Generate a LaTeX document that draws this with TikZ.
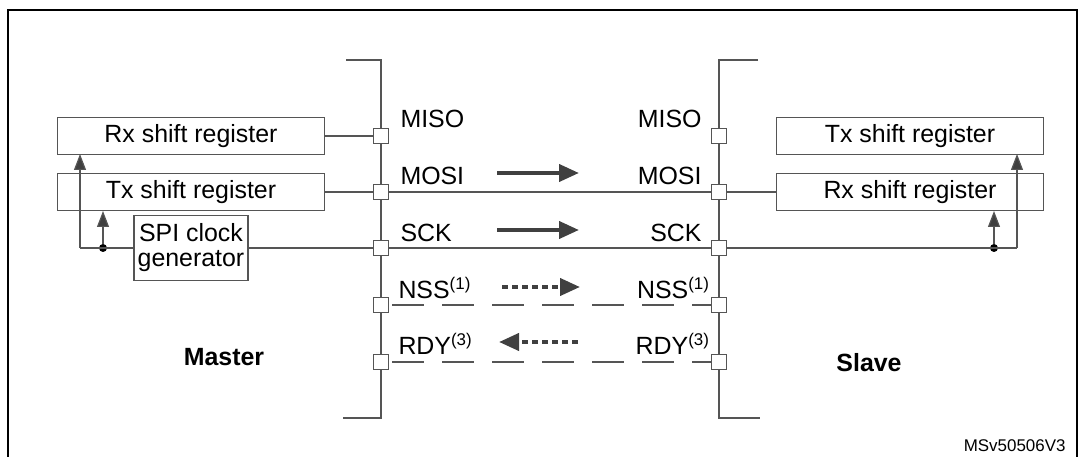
\documentclass[tikz,border=0pt]{standalone}
\usepackage{fontspec}
\setmainfont{Liberation Sans}
\usetikzlibrary{arrows.meta}
\definecolor{ln}{HTML}{555555}
\definecolor{ar}{HTML}{404040}
\newcommand{\bigf}{\fontsize{25}{29}\selectfont}
\newcommand{\supf}{\fontsize{17}{17}\selectfont}
\begin{document}
\bigf
\begin{tikzpicture}[x=1bp,y=-1bp,
  lab/.style={font=\bigf},
  box/.style={draw=ln,line width=1.2pt,minimum width=267bp,minimum height=37bp,inner sep=0,font=\bigf},
  pin/.style={draw=ln,fill=white,line width=1pt,minimum size=15bp,inner sep=0},
  bus/.style={draw=ln,line width=2pt},
  wire/.style={draw=ln,line width=1.2pt},
  sig/.style={draw=ln,line width=1.8pt},
  dsig/.style={draw=ln,line width=1.8pt,dash pattern=on 32bp off 18bp},
  bigar/.style={draw=ar,line width=4pt,-{Triangle[length=20bp,width=17bp]}},
  dar/.style={draw=ar,line width=4pt,dash pattern=on 6bp off 4bp,-{Triangle[length=20bp,width=17bp]}},
  upar/.style={wire,-{Triangle[length=16bp,width=12bp,fill=ar]}},
  dot/.style={circle,fill=black,inner sep=0,minimum size=8bp}]
\useasboundingbox (0,0) rectangle (1079,457);
\clip (0,0) rectangle (1079,457);
\draw[black,line width=1.6pt] (8,470) -- (8,10) -- (1077,10) -- (1077,470);
% buses
\coordinate (mt) at (346,60); \coordinate (mb) at (343,418);
\coordinate (st) at (758,60); \coordinate (sb) at (760,418);
\draw[bus] (mt) -- (381,60) -- (381,418) -- (mb);
\draw[bus] (st) -- (719,60) -- (719,418) -- (sb);
% boxes
\node[box] (mrx) at (191,136) {Rx shift register};
\node[box] (mtx) at (191,192) {Tx shift register};
\node[draw=ln,line width=1.2pt,minimum width=114bp,minimum height=65bp,align=center,inner sep=0,font=\bigf] (clk) at (191,248) {SPI clock\\[-4pt]generator};
\node[box] (stx) at (910,136) {Tx shift register};
\node[box] (srx) at (910,192) {Rx shift register};
% signal lines
\draw[wire] (mrx.east) -- (381,136);
\draw[wire] (mtx.east) -- (381,192);
\draw[wire] (clk.east) -- (381,248);
\draw[sig] (381,192) -- (719,192);
\draw[sig] (381,248) -- (719,248);
\draw[dsig] (392,305) -- (719,305);
\draw[dsig] (392,362) -- (719,362);
\draw[wire] (719,192) -- (srx.west);
% master clock feedback
\node[dot] (md) at (103,248) {};
\draw[wire] (clk.west) -- (80,248) coordinate (mc);
\draw[upar] (mc) -- (80,154);
\draw[upar] (md) -- (103,211);
% slave clock feedback
\node[dot] (sd) at (994,248) {};
\draw[wire] (719,248) -- (1017,248) coordinate (sc);
\draw[upar] (sc) -- (1017,154);
\draw[upar] (sd) -- (994,211);
% pins
\foreach \y/\n in {136/a,192/b,248/c,305/d,362/e}{
  \node[pin] (mp\n) at (381,\y) {};
  \node[pin] (sp\n) at (719,\y) {};
}
% labels
\node[lab,anchor=west] at (392,119) {MISO};
\node[lab,anchor=west] at (392,176) {MOSI};
\node[lab,anchor=west] at (392,233) {SCK};
\node[lab,anchor=west] at (390,288) {NSS\textsuperscript{\supf(1)}};
\node[lab,anchor=west] at (390,344) {RDY\textsuperscript{\supf(3)}};
\node[lab,anchor=east] at (710,119) {MISO};
\node[lab,anchor=east] at (710,176) {MOSI};
\node[lab,anchor=east] at (710,233) {SCK};
\node[lab,anchor=east] at (718,288) {NSS\textsuperscript{\supf(1)}};
\node[lab,anchor=east] at (718,344) {RDY\textsuperscript{\supf(3)}};
% arrows
\coordinate (a1) at (497,173); \coordinate (a2) at (579,173);
\coordinate (b1) at (497,230); \coordinate (b2) at (579,230);
\coordinate (c1) at (502,287); \coordinate (c2) at (580,287);
\coordinate (d1) at (578,342); \coordinate (d2) at (499,342);
\draw[bigar] (a1) -- (a2);
\draw[bigar] (b1) -- (b2);
\draw[dar] (c1) -- (c2);
\draw[dar] (d1) -- (d2);
\node[font=\bigf\bfseries] at (224,357) {Master};
\node[font=\bigf\bfseries] at (869,363) {Slave};
\node[font=\fontsize{17}{19}\selectfont,anchor=east] at (1074,446) {MSv50506V3};
\end{tikzpicture}
\end{document}
